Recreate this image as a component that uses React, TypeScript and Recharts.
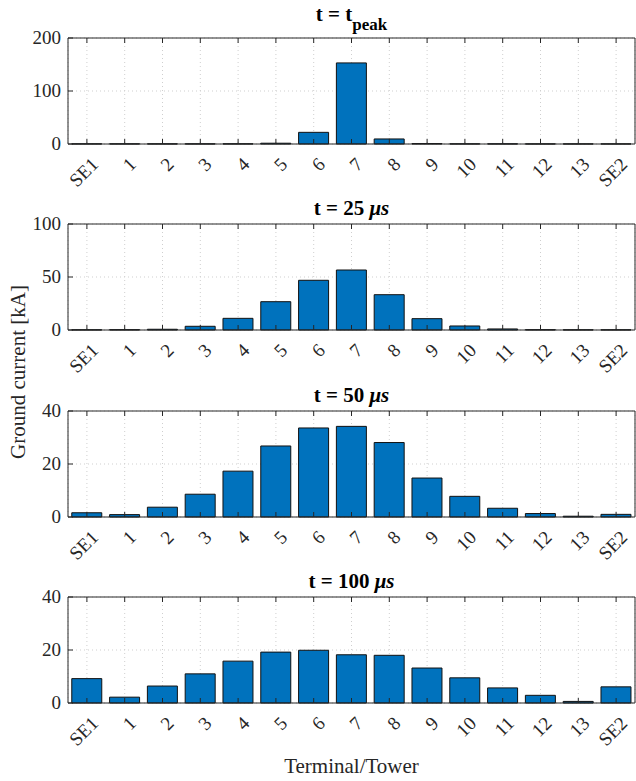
import { Bar, BarChart, CartesianGrid, XAxis, YAxis } from "recharts";

const CATEGORIES = ["SE1", "1", "2", "3", "4", "5", "6", "7", "8", "9", "10", "11", "12", "13", "SE2"];

// ground current [kA] per terminal/tower at each instant
const PEAK_VALUES = [0.3, 0.3, 0.3, 0.3, 0.4, 1.5, 22, 153, 9.5, 0.8, 0.3, 0.3, 0.2, 0.2, 0.2];
const T25_VALUES = [0.2, 0.3, 0.7, 3.5, 11, 26.7, 46.9, 56.6, 33.3, 10.7, 3.8, 1, 0.3, 0.2, 0.2];
const T50_VALUES = [1.6, 0.9, 3.7, 8.6, 17.3, 26.8, 33.6, 34.2, 28.1, 14.7, 7.8, 3.3, 1.3, 0.3, 1.0];
const T100_VALUES = [9.2, 2.2, 6.4, 11.0, 15.8, 19.2, 19.9, 18.2, 18.0, 13.2, 9.5, 5.7, 2.9, 0.6, 6.1];

const PEAK_TICKS = [0, 100, 200];
const T25_TICKS = [0, 50, 100];
const T50_TICKS = [0, 20, 40];
const T100_TICKS = [0, 20, 40];

const FONT = '"Liberation Serif", "Times New Roman", serif';
const INK = "#262626";
const BAR_BLUE = "#0072BD";

const PANELS = [
  { values: PEAK_VALUES, ticks: PEAK_TICKS, top: 38 },
  { values: T25_VALUES, ticks: T25_TICKS, top: 224 },
  { values: T50_VALUES, ticks: T50_TICKS, top: 411 },
  { values: T100_VALUES, ticks: T100_TICKS, top: 597 },
];

const PLOT_H = 106;
const TOP_PAD = 30;
const X_AXIS_H = 50;

function BottomTick({ x, y, payload }: any) {
  const tx = x + 12.5;
  const ty = y + 21.5;
  return (
    <g>
      <line x1={x} x2={x} y1={y} y2={y - 5} stroke={INK} />
      <text
        x={tx}
        y={ty}
        transform={`rotate(-45 ${tx} ${ty})`}
        textAnchor="end"
        fontFamily={FONT}
        fontSize={19}
        fill={INK}
      >
        {payload.value}
      </text>
    </g>
  );
}

function TopTick({ x, y }: any) {
  return <line x1={x} x2={x} y1={y} y2={y + 5} stroke={INK} />;
}

function LeftTick({ x, y, payload }: any) {
  return (
    <g>
      <line x1={x} x2={x + 5} y1={y} y2={y} stroke={INK} />
      <text
        x={x - 7}
        y={y}
        dy="0.34em"
        textAnchor="end"
        fontFamily={FONT}
        fontSize={19}
        fill={INK}
      >
        {payload.value}
      </text>
    </g>
  );
}

function RightTick({ x, y }: any) {
  return <line x1={x} x2={x - 5} y1={y} y2={y} stroke={INK} />;
}

function Panel({ values, ticks, top }: { values: number[]; ticks: number[]; top: number }) {
  const data = CATEGORIES.map((name, i) => ({ name, value: values[i] }));
  const domain = [ticks[0], ticks[ticks.length - 1]];
  return (
    <div style={{ position: "absolute", left: 0, top: top - TOP_PAD }}>
      <BarChart
        width={636}
        height={TOP_PAD + PLOT_H + X_AXIS_H}
        data={data}
        margin={{ top: TOP_PAD - 1, right: 0, bottom: 0, left: 0 }}
        barCategoryGap="10%"
      >
        <CartesianGrid stroke="#cfcfcf" strokeDasharray="1 3" />
        <Bar
          dataKey="value"
          fill={BAR_BLUE}
          stroke="#111"
          strokeWidth={1}
          isAnimationActive={false}
        />
        <XAxis
          dataKey="name"
          height={X_AXIS_H}
          interval={0}
          tickSize={0}
          tickMargin={0}
          tickLine={false}
          axisLine={{ stroke: INK }}
          tick={<BottomTick />}
        />
        <XAxis
          xAxisId="top"
          orientation="top"
          dataKey="name"
          height={1}
          interval={0}
          tickSize={0}
          tickMargin={0}
          tickLine={false}
          axisLine={{ stroke: INK }}
          tick={<TopTick />}
        />
        <YAxis
          width={68}
          domain={domain}
          ticks={ticks}
          tickSize={0}
          tickMargin={0}
          tickLine={false}
          axisLine={{ stroke: INK }}
          tick={<LeftTick />}
        />
        <YAxis
          yAxisId="right"
          orientation="right"
          width={1}
          domain={domain}
          ticks={ticks}
          tickSize={0}
          tickMargin={0}
          tickLine={false}
          axisLine={{ stroke: INK }}
          tick={<RightTick />}
        />
      </BarChart>
    </div>
  );
}

export default function App() {
  return (
    <div
      style={{
        position: "absolute",
        left: 0,
        top: 0,
        width: 636,
        height: 781,
        background: "#fff",
      }}
    >
      {PANELS.map((p, i) => (
        <Panel key={i} values={p.values} ticks={p.ticks} top={p.top} />
      ))}
      <svg
        width={636}
        height={781}
        style={{ position: "absolute", left: 0, top: 0, pointerEvents: "none" }}
      >
        <g fontFamily={FONT} fill="#000" fontWeight="bold" fontSize={21}>
          <text x={351.5} y={21} textAnchor="middle">
            t = t
            <tspan fontSize={17} dy={8.5}>peak</tspan>
          </text>
          <text x={351.5} y={215} textAnchor="middle">
            t = 25 <tspan fontStyle="italic">μs</tspan>
          </text>
          <text x={351.5} y={402} textAnchor="middle">
            t = 50 <tspan fontStyle="italic">μs</tspan>
          </text>
          <text x={351.5} y={588} textAnchor="middle">
            t = 100 <tspan fontStyle="italic">μs</tspan>
          </text>
        </g>
        <g fontFamily={FONT} fill={INK} fontSize={21}>
          <text x={351.5} y={773} textAnchor="middle">
            Terminal/Tower
          </text>
          <text x={25} y={372} textAnchor="middle" transform="rotate(-90 25 372)">
            Ground current [kA]
          </text>
        </g>
      </svg>
    </div>
  );
}
